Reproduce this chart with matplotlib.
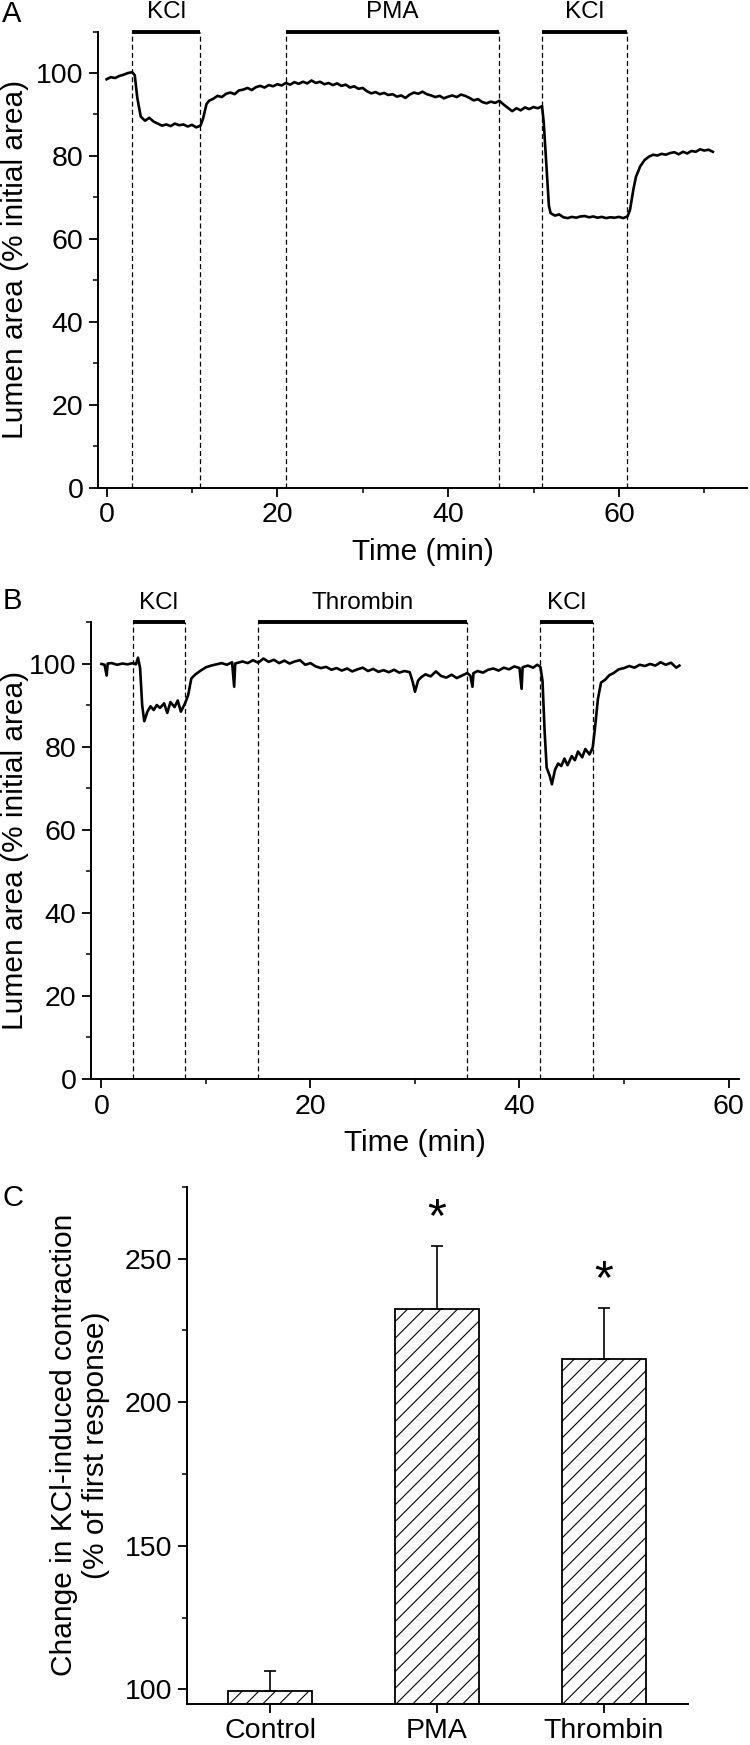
import matplotlib
matplotlib.use("Agg")
import matplotlib.pyplot as plt
from matplotlib.ticker import MultipleLocator

plt.rcParams['font.family'] = ['Liberation Sans', 'DejaVu Sans']
plt.rcParams['hatch.linewidth'] = 0.8

# panel A trace (time in min, lumen area %)
tA = [0, 0.5, 1, 1.5, 2, 2.5, 3, 3.3, 3.6, 4, 4.5, 5, 5.5, 6, 6.5, 7, 7.5, 8, 8.5, 9, 9.5, 10,
      10.5, 11, 11.3, 11.7, 12, 12.5, 13, 13.5, 14, 14.5, 15, 15.5, 16, 16.5, 17, 17.5, 18, 18.5,
      19, 19.5, 20, 20.5, 21, 21.5, 22, 22.5, 23, 23.5, 24, 24.5, 25, 25.5, 26, 26.5, 27, 27.5,
      28, 28.5, 29, 29.5, 30, 30.5, 31, 31.5, 32, 32.5, 33, 33.5, 34, 34.5, 35, 35.5, 36, 36.5,
      37, 37.5, 38, 38.5, 39, 39.5, 40, 40.5, 41, 41.5, 42, 42.5, 43, 43.5, 44, 44.5, 45, 45.5,
      46, 46.5, 47, 47.5, 48, 48.5, 49, 49.5, 50, 50.5, 51, 51.2, 51.5, 51.8, 52, 52.5, 53, 53.5,
      54, 54.5, 55, 55.5, 56, 56.5, 57, 57.5, 58, 58.5, 59, 59.5, 60, 60.5, 61, 61.3, 61.7, 62,
      62.5, 63, 63.5, 64, 64.5, 65, 65.5, 66, 66.5, 67, 67.5, 68, 68.5, 69, 69.5, 70, 70.5, 71]
yA = [98.5, 99.0, 98.8, 99.3, 99.6, 100.0, 100.2, 99.5, 94.0, 89.5, 88.5, 89.2, 88.3, 87.8, 87.3,
      87.6, 87.2, 87.8, 87.4, 87.6, 87.1, 87.5, 86.9, 87.3, 89.0, 92.5, 93.3, 93.8, 94.5, 94.2,
      95.0, 95.3, 94.9, 95.8, 96.0, 96.4, 95.9, 96.6, 96.9, 96.5, 97.1, 96.8, 97.3, 97.0, 97.6,
      97.2, 97.8, 97.4, 97.9, 97.5, 98.2, 97.6, 97.9, 97.3, 97.6, 97.1, 97.5, 96.9, 97.2, 96.5,
      96.8, 96.2, 96.4, 95.6, 95.1, 95.4, 94.9, 95.2, 94.7, 94.9, 94.3, 94.6, 94.0, 94.8, 95.3,
      95.0, 95.5, 94.9, 94.6, 94.2, 94.5, 93.9, 94.3, 94.6, 94.2, 94.8, 94.5, 94.0, 93.4, 93.7,
      93.0, 92.7, 93.1, 92.8, 93.3, 92.4, 91.6, 90.8, 91.5, 91.0, 91.7, 91.3, 91.8, 91.5, 92.0,
      88.0, 78.0, 68.0, 66.2, 65.6, 65.9, 65.2, 65.0, 65.3, 65.1, 65.4, 65.5, 65.2, 65.4, 65.1,
      65.3, 65.0, 65.2, 65.1, 65.3, 65.0, 65.4, 67.0, 72.0, 75.0, 77.5, 79.0, 79.8, 80.3, 80.1,
      80.5, 80.3, 80.7, 80.9, 80.4, 81.0, 80.6, 81.2, 81.0, 81.6, 81.3, 81.5, 81.0]

# panel B trace
tB = [0, 0.3, 0.5, 0.6, 1, 1.5, 2, 2.5, 3, 3.3, 3.5, 3.7, 3.9, 4.1, 4.4, 4.7, 5, 5.3, 5.6, 6,
      6.3, 6.6, 7, 7.3, 7.6, 8, 8.3, 8.6, 9, 9.5, 10, 10.5, 11, 11.5, 12, 12.5, 12.7, 12.8, 13.5,
      14, 14.5, 15, 15.5, 16, 16.5, 17, 17.5, 18, 18.5, 19, 19.5, 20, 20.5, 21, 21.5, 22, 22.5,
      23, 23.5, 24, 24.5, 25, 25.5, 26, 26.5, 27, 27.5, 28, 28.5, 29, 29.5, 29.8, 30, 30.3, 30.6,
      31, 31.5, 32, 32.5, 33, 33.5, 34, 34.5, 35, 35.3, 35.5, 35.6, 36, 36.5, 37, 37.5, 38, 38.5,
      39, 39.5, 40, 40.2, 40.3, 40.8, 41.3, 41.7, 42, 42.2, 42.4, 42.6, 42.9, 43.1, 43.4, 43.7,
      44, 44.3, 44.6, 45, 45.3, 45.6, 46, 46.3, 46.7, 47, 47.2, 47.5, 47.8, 48.2, 48.6, 49, 49.5,
      50, 50.5, 51, 51.5, 52, 52.5, 53, 53.5, 54, 54.5, 55, 55.3]
yB = [100.0, 99.8, 97.2, 100.1, 100.2, 99.8, 100.1, 99.9, 100.2, 99.9, 101.5, 99.0, 90.0, 86.2,
      88.5, 89.8, 88.9, 90.1, 89.4, 90.5, 88.2, 90.8, 89.6, 91.2, 88.5, 90.5, 92.5, 96.5, 97.5,
      98.4, 99.2, 99.6, 99.9, 100.2, 99.8, 100.4, 94.5, 100.1, 100.6, 100.2, 100.9, 100.3, 101.3,
      100.5, 101.0, 100.2, 100.8, 100.1, 100.6, 100.9, 99.8, 100.2, 99.4, 99.0, 99.3, 98.6, 99.0,
      98.4, 98.9, 98.2, 98.7, 99.1, 98.3, 98.8, 98.1, 98.5, 98.0, 98.6, 97.9, 98.3, 98.0, 95.5,
      93.3, 96.0, 96.8, 97.5, 97.0, 98.2, 97.1, 96.7, 97.4, 96.6, 97.2, 97.8, 97.2, 94.5, 97.8,
      98.3, 97.9, 98.6, 98.9, 98.4, 99.1, 98.7, 99.4, 99.0, 94.0, 99.2, 99.6, 99.1, 99.8, 99.3,
      96.0, 84.0, 75.0, 73.0, 71.0, 74.5, 76.0, 75.4, 77.2, 75.6, 77.8, 76.8, 78.9, 77.5, 79.5,
      78.2, 79.8, 84.0, 91.5, 95.5, 96.2, 97.3, 97.8, 98.7, 99.0, 99.5, 99.1, 99.8, 99.5, 100.0,
      99.6, 100.4, 99.8, 100.3, 99.1, 99.6]

# drug application periods (start, end, label)
eventsA = [(3, 11, 'KCl'), (21, 46, 'PMA'), (51, 61, 'KCl')]
eventsB = [(3, 8, 'KCl'), (15, 35, 'Thrombin'), (42, 47, 'KCl')]

# panel C
groups = ['Control', 'PMA', 'Thrombin']
means = [99.3, 232.5, 215.0]
sems = [7.0, 22.0, 18.0]
signif = [False, True, True]

fig = plt.figure(figsize=(7.5, 17.45), dpi=100)

tick_fs = 20.5
label_fs = 21.5


def style_axis(ax):
    for s in ['top', 'right']:
        ax.spines[s].set_visible(False)
    for s in ['left', 'bottom']:
        ax.spines[s].set_linewidth(1.4)
    ax.tick_params(which='major', direction='out', length=6.5, width=1.3,
                   labelsize=tick_fs, pad=4)
    ax.tick_params(which='minor', direction='out', length=3.5, width=1.1)


def trace_panel(rect, t, y, events, xmax, letter, letter_y):
    ax = fig.add_axes(rect)
    ax.plot(t, y, color='black', lw=1.9)
    for a, b, name in events:
        ax.vlines([a, b], 0, 110, colors='black', lw=0.9, linestyles=(0, (4, 2.5)))
        ax.plot([a, b], [110, 110], color='black', lw=2.8, clip_on=False,
                solid_capstyle='butt')
        ax.text((a + b) / 2, 114.8, name, ha='center', va='center', fontsize=17.5)
    ax.set_xlim(-1, xmax)
    ax.set_ylim(0, 110)
    ax.xaxis.set_major_locator(MultipleLocator(20))
    ax.xaxis.set_minor_locator(MultipleLocator(10))
    ax.yaxis.set_major_locator(MultipleLocator(20))
    ax.yaxis.set_minor_locator(MultipleLocator(10))
    style_axis(ax)
    ax.set_xlabel('Time (min)', fontsize=label_fs, labelpad=7)
    ax.set_ylabel('Lumen area (% initial area)', fontsize=label_fs)
    fig.text(0.003, letter_y, letter, fontsize=21, va='center', ha='left')
    return ax


axA = trace_panel([0.1307, 0.7206, 0.8653, 0.2613], tA, yA, eventsA, 75, 'A', 0.9920)
axA.yaxis.set_label_coords(-0.106, 0.5)
axB = trace_panel([0.1213, 0.3817, 0.864, 0.2616], tB, yB, eventsB, 61, 'B', 0.6555)
axB.yaxis.set_label_coords(-0.096, 0.5)

axC = fig.add_axes([0.2488, 0.0237, 0.6679, 0.2961])
x = list(range(len(groups)))
axC.bar(x, [m - 95 for m in means], bottom=95, width=0.5, color='white',
        edgecolor='black', linewidth=1.3, hatch='//', zorder=2)
axC.errorbar(x, means, yerr=[[0] * len(sems), sems], fmt='none', ecolor='black',
             elinewidth=1.2, capsize=4, capthick=1.2, zorder=3)
for xi, m, s, sig in zip(x, means, sems, signif):
    if sig:
        axC.text(xi, m + s + 1.5, '*', ha='center', va='bottom', fontsize=35)
axC.set_xlim(-0.5, 2.5)
axC.set_ylim(95, 275)
axC.set_xticks(x)
axC.set_xticklabels(groups)
axC.yaxis.set_minor_locator(MultipleLocator(25))
axC.set_yticks([100, 150, 200, 250])
style_axis(axC)
axC.set_ylabel('Change in KCl-induced contraction\n(% of first response)', fontsize=label_fs)
axC.yaxis.set_label_coords(-0.153, 0.5)
fig.text(0.003, 0.3135, 'C', fontsize=21, va='center', ha='left')

fig.savefig('out.png', dpi=100)
